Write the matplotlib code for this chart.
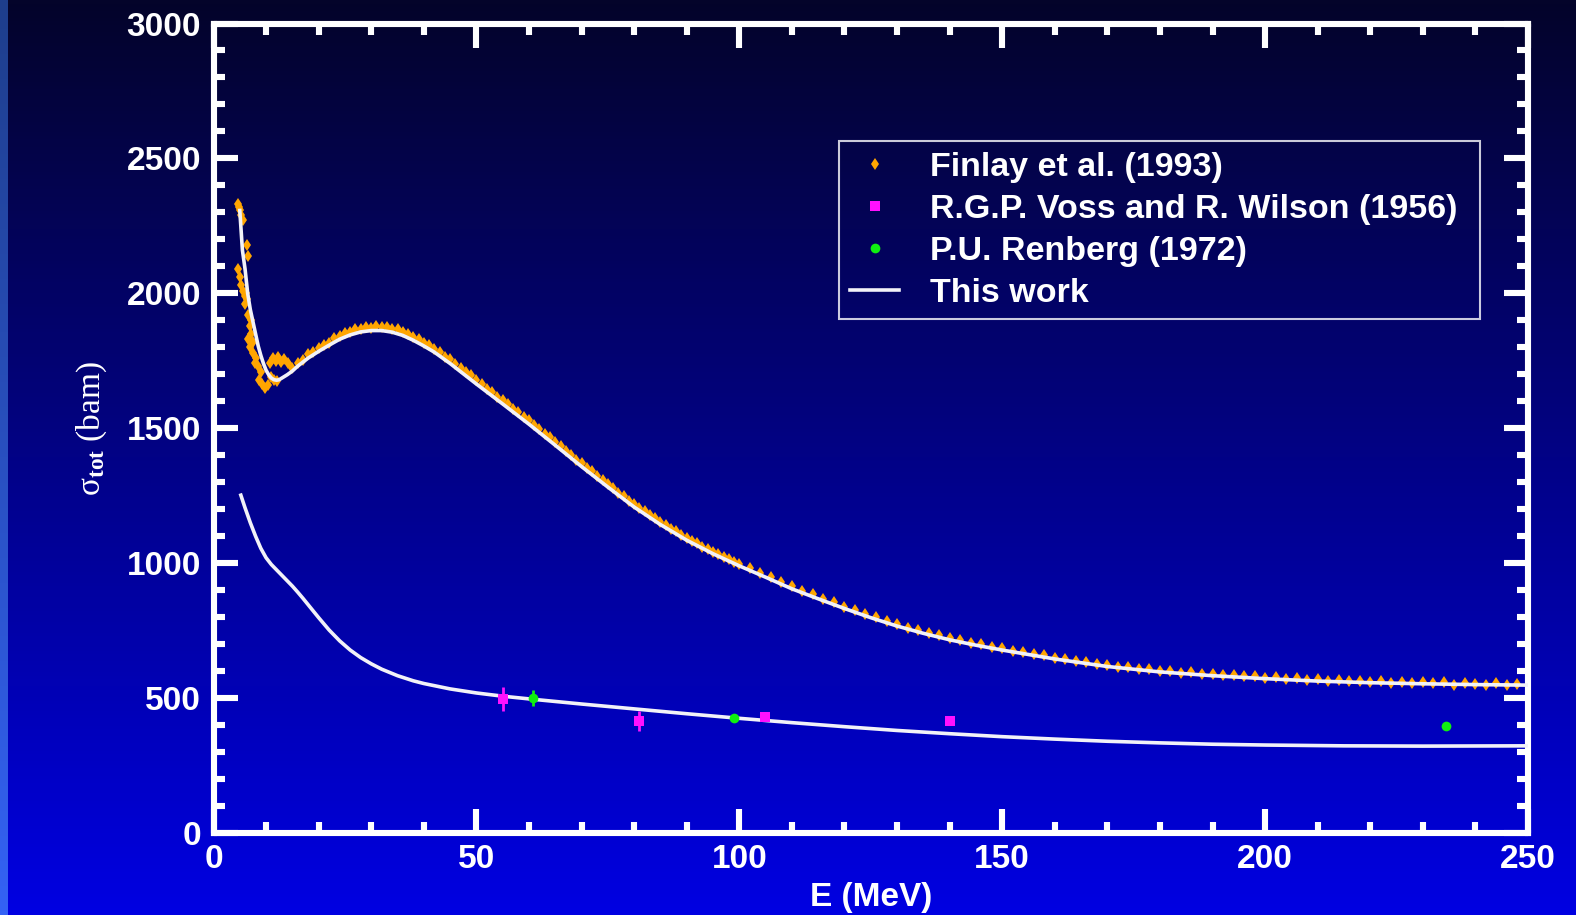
import numpy as np
import matplotlib
matplotlib.use("Agg")
import matplotlib.pyplot as plt
from matplotlib.ticker import MultipleLocator
from matplotlib.lines import Line2D

# ---------------- data ----------------
finlay_E = [4.6, 4.8, 5.0, 5.3, 5.6, 6.3, 6.5,
            4.7, 5.0, 5.3, 5.6, 5.9, 6.2, 6.4,
            6.0, 6.5, 6.9, 7.1, 7.2, 7.5,
            6.6, 7.0, 7.5, 8.0, 7.8, 8.4, 9.0,
            8.6, 9.2, 9.8, 10.3, 11.0, 11.5, 12.0,
            10.8, 11.3, 11.8, 12.3, 12.8, 13.5, 14.2,
            15, 16, 17, 18, 19, 20, 21, 22, 23, 24, 25, 26, 27, 28, 29, 30,
            31, 32, 33, 34, 35, 36, 37, 38, 39, 40, 41, 42, 43, 44, 45, 46,
            47, 48, 49, 50, 51, 52, 53, 54, 55, 56, 57, 58, 59, 60, 61, 62,
            63, 64, 65, 66, 67, 68, 69, 70, 71, 72, 73, 74, 75, 76, 77, 78,
            79, 80, 81, 82, 83, 84, 85, 86, 87, 88, 89, 90, 91, 92, 93, 94,
            95, 96, 97, 98, 99, 100,
            102, 104, 106, 108, 110, 112, 114, 116, 118, 120, 122, 124, 126,
            128, 130, 132, 134, 136, 138, 140, 142, 144, 146, 148, 150, 152,
            154, 156, 158, 160, 162, 164, 166, 168, 170, 172, 174, 176, 178,
            180, 182, 184, 186, 188, 190, 192, 194, 196, 198, 200, 202, 204,
            206, 208, 210, 212, 214, 216, 218, 220, 222, 224, 226, 228, 230,
            232, 234, 236, 238, 240, 242, 244, 246, 248, 250]
finlay_sigma = [2330, 2320, 2310, 2290, 2270, 2180, 2140,
                2090, 2060, 2030, 2010, 1990, 2000, 1980,
                1960, 1920, 1880, 1900, 1850, 1820,
                1830, 1800, 1780, 1760, 1740, 1730, 1710,
                1680, 1665, 1650, 1660, 1690, 1680, 1675,
                1740, 1760, 1750, 1765, 1745, 1755, 1740,
                1722, 1741, 1752, 1774, 1781, 1797, 1810, 1816, 1833, 1841, 1853, 1857, 1866, 1869, 1876, 1872,
                1880, 1874, 1877, 1866, 1866, 1855, 1851, 1838, 1831, 1816, 1809, 1793, 1784, 1765, 1756, 1738,
                1724, 1709, 1696, 1677, 1665, 1646, 1636, 1617, 1604, 1589, 1573, 1559, 1541, 1530, 1511, 1499,
                1479, 1466, 1449, 1436, 1416, 1402, 1384, 1371, 1353, 1341, 1322, 1310, 1293, 1280, 1261, 1249,
                1231, 1219, 1204, 1193, 1177, 1167, 1151, 1142, 1127, 1118, 1103, 1094, 1082, 1074, 1061, 1054,
                1041, 1035, 1023, 1016, 1005, 998,
                981, 963, 948, 929, 914, 896, 884, 866, 855, 838, 827, 810, 799,
                784, 775, 761, 753, 740, 733, 721, 716, 704, 700, 689, 686, 676,
                671, 662, 658, 650, 646, 637, 635, 626, 624, 617, 615, 609, 607,
                601, 600, 594, 595, 589, 590, 584, 586, 580, 582, 576, 577, 571,
                574, 568, 570, 565, 568, 562, 565, 560, 563, 557, 561, 556, 559,
                555, 558, 550, 556, 552, 547, 555, 549, 553, 550]

voss_E = [55.0, 80.9, 104.9, 140.1]
voss_sigma = [496, 415, 431, 416]
voss_err = [44, 38, 8, 8]

renberg_E = [60.7, 99.0, 234.4]
renberg_sigma = [500, 427, 396]
renberg_err = [30, 8, 8]

work_upper_E = [5.0, 5.5, 6.0, 6.5, 7.0, 7.5, 8.0, 8.5, 9.0, 9.5, 10, 10.5, 11, 11.5,
                12, 12.5, 13, 14, 15, 16, 18, 20, 22, 24, 26, 28, 30, 32, 34, 36,
                38, 40, 42, 45, 50, 55, 60, 65, 70, 75, 80, 85, 90, 95, 100, 105,
                110, 115, 120, 125, 130, 135, 140, 145, 150, 160, 170, 180, 190,
                200, 210, 220, 230, 240, 250]
work_upper_sigma = [2307, 2160, 2090, 2000, 1940, 1895, 1850, 1805, 1770, 1740, 1715,
                    1698, 1686, 1680, 1678, 1680, 1686, 1698, 1712, 1730, 1760, 1785,
                    1808, 1830, 1846, 1857, 1862, 1862, 1856, 1844, 1826, 1805, 1782,
                    1740, 1664, 1590, 1515, 1437, 1358, 1282, 1208, 1143, 1085, 1035,
                    990, 948, 905, 868, 832, 798, 767, 740, 716, 696, 678, 645, 617,
                    597, 583, 572, 563, 557, 553, 550, 548]

work_lower_E = [5.2, 6, 7, 8, 9, 10, 11, 12, 13, 14, 15, 16, 17, 18, 19, 20, 22, 24,
                26, 28, 30, 32, 35, 38, 40, 45, 50, 55, 60, 70, 80, 90, 100, 110,
                120, 130, 140, 150, 160, 170, 180, 190, 200, 215, 230, 250]
work_lower_sigma = [1252, 1205, 1150, 1100, 1055, 1020, 995, 975, 955, 935, 915, 893,
                    870, 846, 822, 798, 752, 712, 678, 650, 627, 607, 583, 564, 554,
                    534, 519, 507, 497, 478, 460, 442, 425, 409, 394, 380, 368, 357,
                    348, 340, 334, 329, 326, 323, 322, 323]

legend_labels = ["Finlay et al. (1993)", "R.G.P. Voss and R. Wilson (1956)",
                 "P.U. Renberg (1972)", "This work"]

# ---------------- style ----------------
plt.rcParams["font.family"] = ["Liberation Sans", "DejaVu Sans"]
plt.rcParams["font.weight"] = "bold"
plt.rcParams["mathtext.fontset"] = "custom"
plt.rcParams["mathtext.rm"] = "Liberation Serif"
plt.rcParams["mathtext.it"] = "Liberation Serif:italic"

W, H = 1576, 915
fig = plt.figure(figsize=(W / 100, H / 100), dpi=100)


def grad(top, bottom, n=256):
    t = np.linspace(0, 1, n)[:, None]
    c = np.array(top, float)[None, :] * (1 - t) + np.array(bottom, float)[None, :] * t
    return (c / 255.0)[:, None, :]


strip_w = 8 / W
bg1 = fig.add_axes([0, 0, strip_w, 1], zorder=-10)
bg1.imshow(grad((30, 62, 140), (52, 98, 245)), aspect="auto", extent=[0, 1, 0, 1])
bg1.axis("off")
bg2 = fig.add_axes([strip_w, 0, 1 - strip_w, 1], zorder=-10)
bg2.imshow(grad((4, 4, 42), (0, 0, 226)), aspect="auto", extent=[0, 1, 0, 1])
bg2.axis("off")

left, right, top, bottom = 213.5, 1528, 23.5, 833
ax = fig.add_axes([left / W, 1 - bottom / H, (right - left) / W, (bottom - top) / H])
ax.set_facecolor("none")

orange = "#ffa500"
magenta = "#ff10ff"
green = "#10f010"
white = "#f2f2f8"

ax.plot(finlay_E, finlay_sigma, linestyle="none", marker="d", markersize=6,
        color=orange, markeredgewidth=0, zorder=2)
ax.plot(work_upper_E, work_upper_sigma, color=white, lw=2.6, zorder=3)
ax.plot(work_lower_E, work_lower_sigma, color=white, lw=2.6, zorder=3)
ax.errorbar(voss_E, voss_sigma, yerr=voss_err, fmt="s", color=magenta, ms=7,
            mew=0, elinewidth=2, capsize=0, zorder=4)
ax.errorbar(renberg_E, renberg_sigma, yerr=renberg_err, fmt="o", color=green, ms=7,
            mew=0, elinewidth=2, capsize=0, zorder=4)

ax.set_xlim(0, 250)
ax.set_ylim(0, 3000)
ax.xaxis.set_major_locator(MultipleLocator(50))
ax.xaxis.set_minor_locator(MultipleLocator(10))
ax.yaxis.set_major_locator(MultipleLocator(500))
ax.yaxis.set_minor_locator(MultipleLocator(100))

for s in ax.spines.values():
    s.set_color("white")
    s.set_linewidth(4.4)
ax.tick_params(which="both", direction="in", top=True, right=True,
               color="white", width=4.4, labelcolor="white", labelsize=24)
ax.tick_params(which="major", length=17)
ax.tick_params(which="minor", length=8)
ax.tick_params(axis="x", pad=8)
ax.tick_params(axis="y", pad=9)

ax.set_xlabel("E (MeV)", color="white", fontsize=24, fontweight="bold", labelpad=5)
ax.set_ylabel("σ$_{\\mathrm{tot}}$ (bam)", color="white", fontsize=24,
              fontweight="normal", family=["Liberation Serif", "DejaVu Serif"])
ax.yaxis.set_label_coords((109 - left) / (right - left), 0.5)

handles = [
    Line2D([], [], linestyle="none", marker="d", markersize=6, color=orange, mew=0),
    Line2D([], [], linestyle="none", marker="s", markersize=7, color=magenta, mew=0),
    Line2D([], [], linestyle="none", marker="o", markersize=7, color=green, mew=0),
    Line2D([], [], color=white, lw=2.6),
]
lx0 = (839 - left) / (right - left)
lx1 = (1480 - left) / (right - left)
ly1 = (bottom - 141) / (bottom - top)
leg = ax.legend(handles, legend_labels, loc="upper left",
                bbox_to_anchor=(lx0, ly1 - 0.3, lx1 - lx0, 0.3), mode="expand",
                borderaxespad=0, frameon=True, fancybox=False,
                prop={"weight": "bold", "size": 24.5}, labelcolor="white",
                handlelength=1.45, handletextpad=0.9, borderpad=0.32,
                labelspacing=0.32)
fr = leg.get_frame()
fr.set_facecolor("none")
fr.set_edgecolor("white")
fr.set_linewidth(1.5)

fig.savefig("out.png", dpi=100)
